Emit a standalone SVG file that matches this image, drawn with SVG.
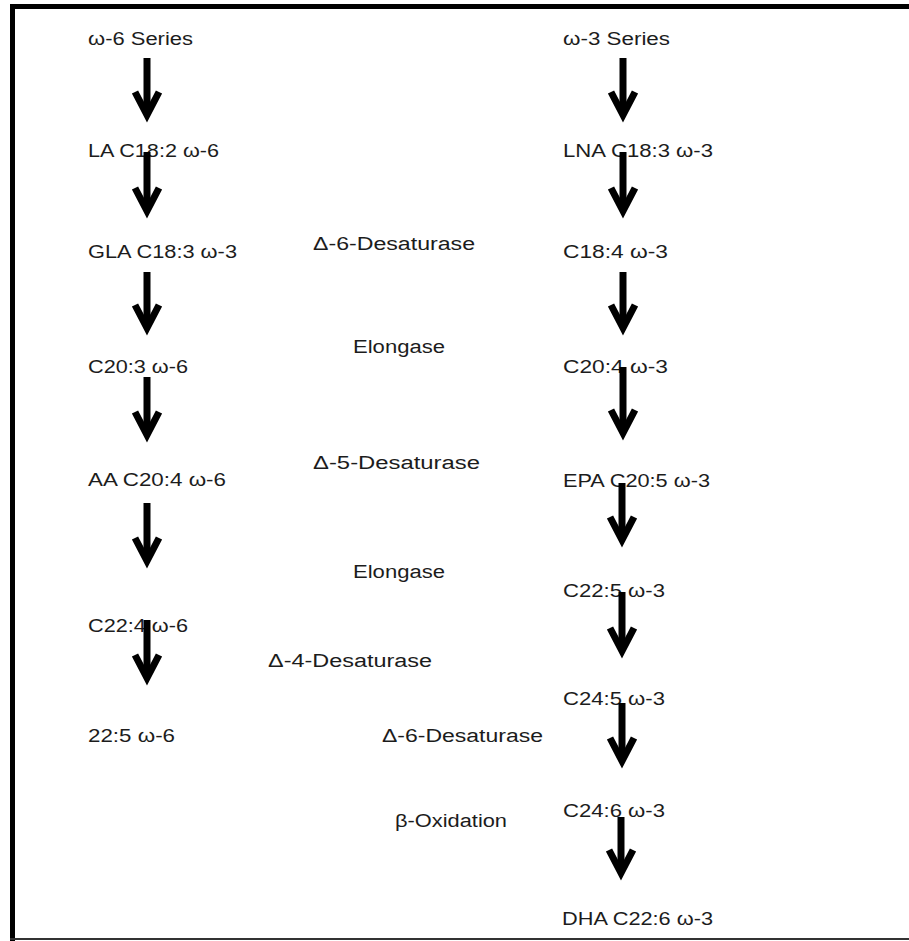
<svg xmlns="http://www.w3.org/2000/svg" width="909" height="941" viewBox="0 0 909 941">
  <style>
    .t { font-family: "Liberation Sans", "DejaVu Sans", sans-serif; font-size: 18px; fill: #1c1c1c; }
    .shaft { stroke: #000; stroke-width: 7; fill: none; marker-end: url(#head); }
    .frame { fill: #000; }
  </style>
  <defs>
    <marker id="head" markerUnits="userSpaceOnUse" viewBox="-30 -20 50 40" refX="0" refY="0"
            markerWidth="50" markerHeight="40" orient="auto" overflow="visible">
      <path d="M -20 -12 L 3 0 L -20 12" fill="none" stroke="#000" stroke-width="7" stroke-miterlimit="10"/>
    </marker>
  </defs>

  <rect width="909" height="941" fill="#fff"/>

  <!-- frame -->
  <g id="frame">
    <rect class="frame" x="10" y="4" width="899" height="5"/>
    <rect class="frame" x="10" y="4" width="5" height="937"/>
    <rect x="10" y="938" width="899" height="2" fill="#333"/>
  </g>

  <!-- omega-6 pathway -->
  <g id="n6-series"><text class="t" x="88" y="45" textLength="105" lengthAdjust="spacingAndGlyphs">ω-6 Series</text></g>
  <g id="n6-la"><text class="t" x="88" y="157" textLength="131" lengthAdjust="spacingAndGlyphs">LA C18:2 ω-6</text></g>
  <g id="n6-gla"><text class="t" x="88" y="258" textLength="149" lengthAdjust="spacingAndGlyphs">GLA C18:3 ω-3</text></g>
  <g id="n6-c203"><text class="t" x="88" y="373" textLength="100" lengthAdjust="spacingAndGlyphs">C20:3 ω-6</text></g>
  <g id="n6-aa"><text class="t" x="88" y="486" textLength="138" lengthAdjust="spacingAndGlyphs">AA C20:4 ω-6</text></g>
  <g id="n6-c224"><text class="t" x="88" y="632" textLength="100" lengthAdjust="spacingAndGlyphs">C22:4 ω-6</text></g>
  <g id="n6-c225"><text class="t" x="88" y="742" textLength="87" lengthAdjust="spacingAndGlyphs">22:5 ω-6</text></g>

  <!-- omega-3 pathway -->
  <g id="n3-series"><text class="t" x="563" y="45" textLength="107" lengthAdjust="spacingAndGlyphs">ω-3 Series</text></g>
  <g id="n3-lna"><text class="t" x="563" y="157" textLength="150" lengthAdjust="spacingAndGlyphs">LNA C18:3 ω-3</text></g>
  <g id="n3-c184"><text class="t" x="563" y="258" textLength="105" lengthAdjust="spacingAndGlyphs">C18:4 ω-3</text></g>
  <g id="n3-c204"><text class="t" x="563" y="373" textLength="105" lengthAdjust="spacingAndGlyphs">C20:4 ω-3</text></g>
  <g id="n3-epa"><text class="t" x="563" y="487" textLength="147" lengthAdjust="spacingAndGlyphs">EPA C20:5 ω-3</text></g>
  <g id="n3-c225"><text class="t" x="563" y="597" textLength="102" lengthAdjust="spacingAndGlyphs">C22:5 ω-3</text></g>
  <g id="n3-c245"><text class="t" x="563" y="705" textLength="102" lengthAdjust="spacingAndGlyphs">C24:5 ω-3</text></g>
  <g id="n3-c246"><text class="t" x="563" y="817" textLength="102" lengthAdjust="spacingAndGlyphs">C24:6 ω-3</text></g>
  <g id="n3-dha"><text class="t" x="562" y="925" textLength="151" lengthAdjust="spacingAndGlyphs">DHA C22:6 ω-3</text></g>

  <!-- enzyme labels -->
  <g id="enzymes">
    <text class="t" x="313" y="250" textLength="162" lengthAdjust="spacingAndGlyphs">Δ-6-Desaturase</text>
    <text class="t" x="353" y="353" textLength="92" lengthAdjust="spacingAndGlyphs">Elongase</text>
    <text class="t" x="313" y="469" textLength="167" lengthAdjust="spacingAndGlyphs">Δ-5-Desaturase</text>
    <text class="t" x="353" y="578" textLength="92" lengthAdjust="spacingAndGlyphs">Elongase</text>
    <text class="t" x="268" y="667" textLength="164" lengthAdjust="spacingAndGlyphs">Δ-4-Desaturase</text>
    <text class="t" x="382" y="742" textLength="161" lengthAdjust="spacingAndGlyphs">Δ-6-Desaturase</text>
    <text class="t" x="395" y="827" textLength="112" lengthAdjust="spacingAndGlyphs">β-Oxidation</text>
  </g>

  <!-- connectors: shaft lines, chevron heads come from the marker -->
  <g id="connectors">
    <line class="shaft" x1="147" y1="58" x2="147" y2="112"/>
    <line class="shaft" x1="147" y1="152" x2="147" y2="208"/>
    <line class="shaft" x1="147" y1="272" x2="147" y2="325"/>
    <line class="shaft" x1="147" y1="377" x2="147" y2="432"/>
    <line class="shaft" x1="147" y1="503" x2="147" y2="558"/>
    <line class="shaft" x1="147" y1="620" x2="147" y2="675"/>

    <line class="shaft" x1="623" y1="58" x2="623" y2="112"/>
    <line class="shaft" x1="623" y1="152" x2="623" y2="208"/>
    <line class="shaft" x1="623" y1="272" x2="623" y2="325"/>
    <line class="shaft" x1="623" y1="367" x2="623" y2="430"/>
    <line class="shaft" x1="622" y1="483" x2="622" y2="537"/>
    <line class="shaft" x1="622" y1="592" x2="622" y2="648"/>
    <line class="shaft" x1="622" y1="703" x2="622" y2="758"/>
    <line class="shaft" x1="621" y1="817" x2="621" y2="870"/>
  </g>
</svg>
